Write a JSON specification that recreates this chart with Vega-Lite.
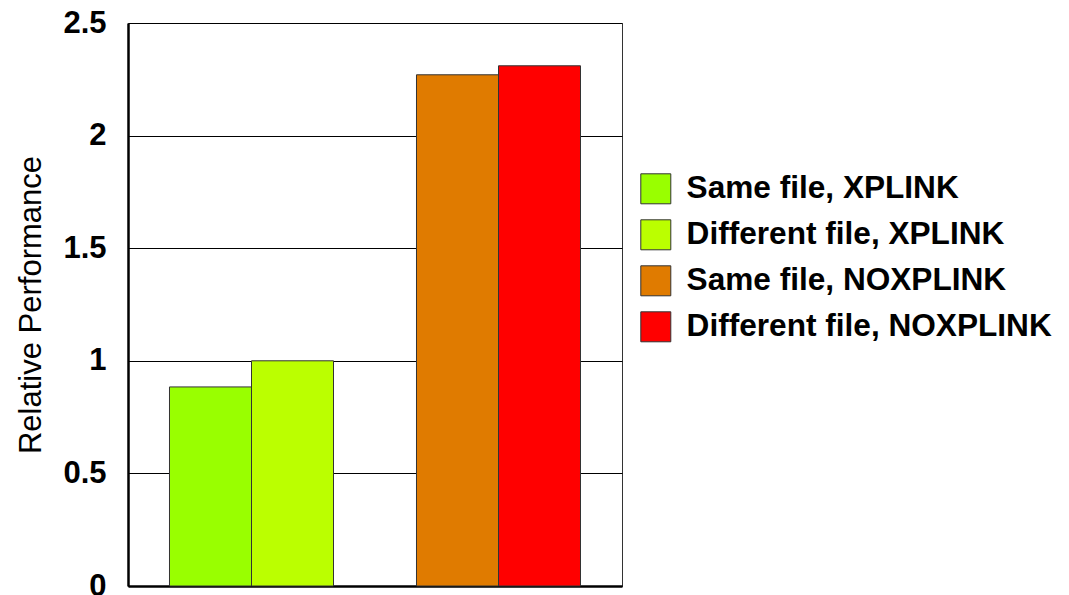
{
  "$schema": "https://vega.github.io/schema/vega-lite/v6.json",
  "width": 494,
  "height": 563,
  "autosize": {"type": "none"},
  "padding": {"left": 128, "top": 23, "right": 447, "bottom": 9},
  "background": "#ffffff",
  "config": {
    "font": "Liberation Sans",
    "view": {"stroke": "#333333", "strokeWidth": 1}
  },
  "data": {
    "values": [
      {"group": "XPLINK", "kind": "Same file", "series": "Same file, XPLINK", "value": 0.884},
      {"group": "XPLINK", "kind": "Different file", "series": "Different file, XPLINK", "value": 1.0},
      {"group": "NOXPLINK", "kind": "Same file", "series": "Same file, NOXPLINK", "value": 2.27},
      {"group": "NOXPLINK", "kind": "Different file", "series": "Different file, NOXPLINK", "value": 2.31}
    ]
  },
  "mark": {"type": "bar", "stroke": "#333333", "strokeWidth": 1},
  "encoding": {
    "x": {
      "field": "group",
      "type": "nominal",
      "sort": ["XPLINK", "NOXPLINK"],
      "scale": {"paddingInner": 0, "paddingOuter": 0},
      "axis": {"labels": false, "ticks": false, "title": null, "domainColor": "#000000", "domainWidth": 2.5}
    },
    "xOffset": {
      "field": "kind",
      "type": "nominal",
      "sort": ["Same file", "Different file"],
      "scale": {"paddingInner": 0, "paddingOuter": 0.506}
    },
    "y": {
      "field": "value",
      "type": "quantitative",
      "scale": {"domain": [0, 2.5], "nice": false},
      "axis": {
        "values": [0, 0.5, 1, 1.5, 2, 2.5],
        "format": "~g",
        "title": "Relative Performance",
        "titleFont": "Liberation Sans",
        "titleFontSize": 31,
        "titleFontWeight": "normal",
        "titleColor": "#000000",
        "titlePadding": 15,
        "labelFont": "Liberation Sans",
        "labelFontSize": 31,
        "labelFontWeight": "bold",
        "labelColor": "#000000",
        "labelPadding": 22,
        "ticks": false,
        "domainColor": "#000000",
        "domainWidth": 2.5,
        "grid": true,
        "gridColor": "#000000",
        "gridWidth": 1,
        "gridOpacity": 1
      }
    },
    "color": {
      "field": "series",
      "type": "nominal",
      "sort": ["Same file, XPLINK", "Different file, XPLINK", "Same file, NOXPLINK", "Different file, NOXPLINK"],
      "scale": {
        "domain": ["Same file, XPLINK", "Different file, XPLINK", "Same file, NOXPLINK", "Different file, NOXPLINK"],
        "range": ["#99ff00", "#bbff00", "#e07b00", "#ff0000"]
      },
      "legend": {
        "orient": "none",
        "legendX": 512,
        "legendY": 150,
        "title": null,
        "symbolType": "square",
        "symbolSize": 900,
        "symbolStrokeColor": "#333333",
        "symbolStrokeWidth": 1,
        "labelFont": "Liberation Sans",
        "labelFontSize": 31.6,
        "labelFontWeight": "bold",
        "labelColor": "#000000",
        "labelOffset": 15,
        "labelLimit": 600,
        "rowPadding": 11,
        "padding": 0
      }
    }
  }
}
